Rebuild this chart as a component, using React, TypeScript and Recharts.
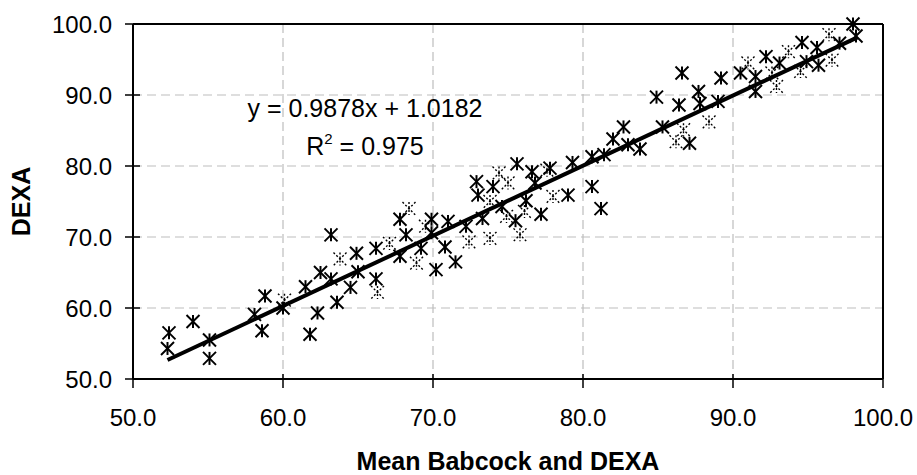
import React from 'react';
import { ScatterChart, Scatter, XAxis, YAxis, CartesianGrid, ReferenceLine } from 'recharts';

const FONT = '"Liberation Sans", Arial, Helvetica, sans-serif';

const xTicks = [50, 60, 70, 80, 90, 100];
const yTicks = [50, 60, 70, 80, 90, 100];
const xTitle = 'Mean Babcock and DEXA';
const yTitle = 'DEXA';
const equationText = 'y = 0.9878x + 1.0182';
const r2Value = '0.975';
const slope = 0.9878;
const intercept = 1.0182;
const trendRange = [52.3, 98.3];

const solidX = [
  52.4, 52.3, 54.0, 55.1, 55.1, 58.1, 58.8, 58.6, 60.0, 61.5, 61.8, 62.3, 62.5, 63.2, 63.2, 63.6, 64.5, 64.9, 65.0, 66.2, 66.2,
  67.8, 67.8, 68.2, 69.2, 69.9, 69.9, 70.8, 71.0, 72.2, 72.9, 73.0, 73.3, 74.0, 74.6, 75.5, 75.6, 76.2, 76.6, 76.8, 77.2, 70.2, 71.5,
  77.8, 79.0, 79.3, 80.6, 80.6, 81.2, 81.4, 82.0, 82.7, 83.0, 83.8, 84.9, 85.3, 86.4, 87.1, 87.7, 87.8, 89.0,
  86.6, 89.2, 90.5, 91.5, 91.5, 92.2, 93.1, 94.6, 94.9, 95.6, 95.7, 97.1, 98.0, 98.2,
];
const solidY = [
  56.5, 54.3, 58.1, 55.5, 52.9, 59.1, 61.7, 56.8, 60.0, 63.0, 56.3, 59.3, 65.0, 70.3, 64.1, 60.8, 62.9, 67.7, 65.1, 68.4, 64.1,
  67.3, 72.5, 70.3, 68.4, 72.5, 70.6, 68.6, 72.2, 71.5, 77.8, 75.9, 72.6, 77.1, 74.3, 72.3, 80.3, 75.1, 79.2, 77.6, 73.2, 65.4, 66.5,
  79.7, 75.9, 80.5, 77.1, 81.3, 74.0, 81.6, 83.8, 85.5, 83.0, 82.4, 89.7, 85.5, 88.6, 83.2, 90.5, 88.8, 89.1,
  93.1, 92.4, 93.1, 92.6, 90.5, 95.4, 94.5, 97.4, 94.7, 96.7, 94.2, 97.3, 100.0, 98.3,
];
const faintX = [
  63.8, 60.1, 66.3, 68.4, 67.1, 69.5, 72.4, 73.8, 73.8, 74.4, 75.0, 75.8, 76.1, 77.6, 74.9, 68.9, 78.0,
  86.7, 88.4, 86.2, 91.0, 92.6, 92.9, 93.7, 96.4, 94.5, 96.6,
];
const faintY = [
  66.9, 61.1, 62.2, 74.0, 69.1, 71.5, 69.3, 75.0, 69.8, 79.0, 77.6, 70.3, 73.6, 79.4, 72.9, 66.3, 75.7,
  85.1, 86.2, 83.4, 94.5, 93.1, 91.2, 96.1, 98.5, 93.3, 94.9,
];

const solidData = solidX.map((x, i) => ({ x, y: solidY[i] }));
const faintData = faintX.map((x, i) => ({ x, y: faintY[i] }));
const trendSegment = trendRange.map((x) => ({ x, y: slope * x + intercept }));

const fmt = (v: number) => Number(v).toFixed(1);

const Star = (props: any) => {
  const { cx, cy, dashed } = props;
  if (cx == null || cy == null) return <g />;
  const s = 6.5;
  return (
    <g
      stroke="#000"
      strokeWidth={dashed ? 1.4 : 2}
      strokeDasharray={dashed ? '2 2' : undefined}
      fill="none"
    >
      <line x1={cx} y1={cy - s} x2={cx} y2={cy + s} />
      <line x1={cx - s} y1={cy - s} x2={cx + s} y2={cy + s} />
      <line x1={cx + s} y1={cy - s} x2={cx - s} y2={cy + s} />
    </g>
  );
};

const XTick = (props: any) => {
  const { x, y, payload } = props;
  return (
    <g>
      <line x1={x} x2={x} y1={y - 5} y2={y + 9} stroke="#000" strokeWidth={1.5} />
      <text x={x} y={y + 47} textAnchor="middle" fontSize={24} fontFamily={FONT} fill="#000">
        {fmt(payload.value)}
      </text>
    </g>
  );
};

const YTick = (props: any) => {
  const { x, y, payload } = props;
  return (
    <g>
      <line x1={x - 8} x2={x + 7} y1={y} y2={y} stroke="#000" strokeWidth={1.5} />
      <text x={x - 21} y={y + 8.5} textAnchor="end" fontSize={24} fontFamily={FONT} fill="#000">
        {fmt(payload.value)}
      </text>
    </g>
  );
};

export default function App() {
  return (
    <div style={{ position: 'absolute', left: 0, top: 0, width: 917, height: 475, background: '#fff' }}>
      <ScatterChart width={917} height={475} margin={{ top: 24, right: 34, bottom: 0, left: 0 }}>
        <CartesianGrid stroke="#bdbdbd" strokeDasharray="9 5" strokeWidth={1.2} />
        <XAxis
          type="number"
          dataKey="x"
          domain={[50, 100]}
          ticks={xTicks}
          interval={0}
          height={96}
          tickLine={false}
          tickSize={0}
          tickMargin={0}
          tick={<XTick />}
          axisLine={{ stroke: '#000', strokeWidth: 2 }}
          label={{
            value: xTitle,
            position: 'insideBottom',
            offset: 5,
            fontSize: 25,
            fontWeight: 'bold',
            fill: '#000',
            fontFamily: FONT,
          }}
        />
        <YAxis
          type="number"
          dataKey="y"
          domain={[50, 100]}
          ticks={yTicks}
          interval={0}
          width={133}
          tickLine={false}
          tickSize={0}
          tickMargin={0}
          tick={<YTick />}
          axisLine={{ stroke: '#000', strokeWidth: 2 }}
          label={{
            value: yTitle,
            angle: -90,
            position: 'insideLeft',
            offset: 21,
            fontSize: 25,
            fontWeight: 'bold',
            fill: '#000',
            fontFamily: FONT,
            style: { textAnchor: 'middle' },
          }}
        />
        <ReferenceLine y={100} stroke="#000" strokeWidth={2} />
        <ReferenceLine x={100} stroke="#000" strokeWidth={2} />
        <Scatter data={faintData} isAnimationActive={false} shape={(p: any) => <Star {...p} dashed />} />
        <Scatter data={solidData} isAnimationActive={false} shape={(p: any) => <Star {...p} />} />
        <ReferenceLine segment={trendSegment} stroke="#000" strokeWidth={4} />
      </ScatterChart>
      <svg
        width={917}
        height={475}
        style={{ position: 'absolute', left: 0, top: 0, pointerEvents: 'none' }}
      >
        <text x={365} y={117} textAnchor="middle" fontSize={25} fontFamily={FONT} fill="#000">
          {equationText}
        </text>
        <text x={365} y={155} textAnchor="middle" fontSize={25} fontFamily={FONT} fill="#000">
          R
          <tspan fontSize={15} dy={-11}>2</tspan>
          <tspan dy={11}>{' = ' + r2Value}</tspan>
        </text>
      </svg>
    </div>
  );
}
